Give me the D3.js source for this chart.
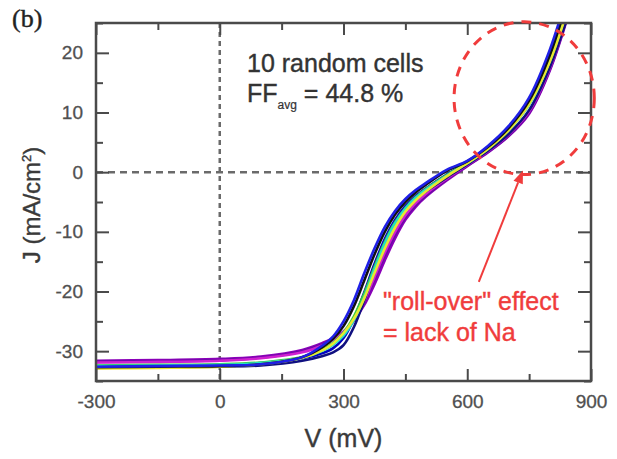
<!DOCTYPE html>
<html><head><meta charset="utf-8">
<script src="https://cdn.jsdelivr.net/npm/d3@7"></script>
<style>
html,body{margin:0;padding:0;background:#fff;}
svg{display:block;font-family:"Liberation Sans",Arial,sans-serif;}
</style></head>
<body>
<svg id="c" width="617" height="459"></svg>
<script>
// ---- data ----
const voltage = [-300,-150,0,100,200,250,275,300,325,350,375,400,425,450,475,500,550,600,650,700,750,800,850];
const cellPurple  = [-31.6,-31.5,-31.3,-30.9,-29.8,-28.6,-27.8,-26.7,-24.9,-22.3,-18.8,-14.8,-11.1,-8.0,-5.8,-4.1,-1.4,1.0,3.3,6.0,9.8,17.0,27.5];
const cellViolet  = [-31.8,-31.7,-31.5,-31.1,-30.0,-28.8,-28.0,-26.9,-24.9,-21.9,-18.0,-14.0,-10.5,-7.6,-5.5,-3.9,-1.2,1.1,3.4,6.1,10.0,17.2,27.8];
const cellMagenta = [-31.9,-31.8,-31.6,-31.2,-30.2,-29.0,-28.1,-26.8,-24.6,-21.6,-17.6,-13.5,-10.0,-7.2,-5.2,-3.6,-1.1,1.2,3.5,6.3,10.2,17.4,28.0];
const cellNavy    = [-32.8,-32.7,-32.6,-32.4,-31.6,-30.8,-30.2,-29.0,-26.0,-21.5,-16.5,-12.0,-8.5,-6.0,-4.4,-3.2,-0.9,1.3,3.6,6.4,10.4,17.6,27.5];
const cellDkBlue  = [-32.6,-32.5,-32.3,-32.0,-31.2,-30.3,-29.5,-27.8,-24.6,-20.2,-15.4,-11.2,-8.0,-5.7,-4.0,-2.7,-0.4,1.6,4.0,7.2,11.7,19.0,29.5];
const cellGreen   = [-32.4,-32.3,-32.2,-31.9,-31.0,-29.7,-28.6,-26.9,-24.2,-20.4,-15.9,-11.7,-8.4,-6.0,-4.2,-2.8,-0.5,1.6,4.0,7.1,11.5,18.8,29.2];
const cellCyan    = [-32.5,-32.4,-32.3,-32.0,-31.1,-29.9,-28.9,-27.4,-24.8,-21.0,-16.3,-12.0,-8.6,-6.1,-4.3,-2.9,-0.6,1.5,3.9,7.0,11.3,18.6,29.0];
const cellYellow  = [-32.9,-32.8,-32.6,-32.2,-31.1,-29.8,-28.7,-27.0,-24.6,-21.2,-16.9,-12.8,-9.3,-6.6,-4.7,-3.2,-0.7,1.5,3.9,7.0,11.4,18.5,28.8];
const cellBlack   = [-32.7,-32.6,-32.5,-32.2,-31.0,-29.3,-27.9,-25.8,-22.5,-18.2,-13.8,-10.0,-7.1,-5.0,-3.4,-2.1,0.2,1.8,4.2,7.4,12.0,19.6,30.5];
const cellBlue    = [-32.6,-32.5,-32.4,-32.2,-31.0,-29.0,-27.5,-25.0,-21.5,-17.0,-12.8,-9.2,-6.5,-4.5,-3.0,-1.8,0.4,1.9,4.4,7.7,12.5,20.5,31.5];
const cells       = [cellPurple,cellViolet,cellMagenta,cellNavy,cellDkBlue,cellGreen,cellCyan,cellYellow,cellBlack,cellBlue];
const curveColors = ["#8a00b8","#6a0aa8","#d020d0","#101080","#0000c0","#3cc83c","#22e0c8","#e8e830","#111111","#1f1fe6"];

const xMajorTicks = [-300,0,300,600,900];
const xMinorTicks = [-150,150,450,750];
const yMajorTicks = [-30,-20,-10,0,10,20];
const yMinorTicks = [-35,-25,-15,-5,5,15,25];
const xDomain = [-300,900];
const yDomain = [-35,25];

// annotation anchors in data units
const circleCenter = {v:738, j:12.4};
const circleRadius = {v:170, j:12.8};
const arrowFrom = {v:628, j:-18.4};
const arrowTo   = {v:735, j:0.3};

// ---- drawing ----
const svg = d3.select("#c");
const L=96,R=591,T=23,B=381;
const x = d3.scaleLinear(xDomain,[L,R]);
const y = d3.scaleLinear(yDomain,[B,T]);

svg.append("defs").append("clipPath").attr("id","clip")
  .append("rect").attr("x",L).attr("y",T).attr("width",R-L).attr("height",B-T);

// zero lines
const dashCol="#6a6a6a";
svg.append("line").attr("x1",L).attr("x2",R).attr("y1",y(0)).attr("y2",y(0))
  .attr("stroke",dashCol).attr("stroke-width",2.5).attr("stroke-dasharray","7,5");
svg.append("line").attr("x1",x(0)).attr("x2",x(0)).attr("y1",T).attr("y2",B)
  .attr("stroke",dashCol).attr("stroke-width",2.5).attr("stroke-dasharray","5,4");

// curves
const line = d3.line().x((d,i)=>x(voltage[i])).y(d=>y(d)).curve(d3.curveCatmullRom.alpha(0.5));
const g = svg.append("g").attr("clip-path","url(#clip)");
cells.forEach((c,k)=>{
  g.append("path").attr("d",line(c)).attr("fill","none")
   .attr("stroke",curveColors[k]).attr("stroke-width",2.6).attr("stroke-linejoin","round");
});

// axes
const axCol="#4a4a4a";
const fmt = d => String(d);
function styleAxis(sel){
  sel.select(".domain").remove();
  sel.selectAll(".tick line").attr("stroke",axCol).attr("stroke-width",2);
  sel.selectAll(".tick text").attr("fill","#505050").style("font-size","19px")
     .style("font-family","'Liberation Sans',Arial,sans-serif")
     .attr("stroke","#505050").attr("stroke-width",0.3);
}
svg.append("g").attr("transform",`translate(0,${B})`)
  .call(d3.axisBottom(x).tickValues(xMajorTicks).tickSize(-12).tickPadding(14).tickFormat(fmt)).call(styleAxis);
svg.append("g").attr("transform",`translate(0,${B})`)
  .call(d3.axisBottom(x).tickValues(xMinorTicks).tickSize(-7).tickFormat("")).call(styleAxis);
svg.append("g").attr("transform",`translate(0,${T})`)
  .call(d3.axisTop(x).tickValues(xMajorTicks).tickSize(-12).tickFormat("")).call(styleAxis);
svg.append("g").attr("transform",`translate(0,${T})`)
  .call(d3.axisTop(x).tickValues(xMinorTicks).tickSize(-7).tickFormat("")).call(styleAxis);
svg.append("g").attr("transform",`translate(${L},0)`)
  .call(d3.axisLeft(y).tickValues(yMajorTicks).tickSize(-13).tickPadding(13).tickFormat(fmt)).call(styleAxis);
svg.append("g").attr("transform",`translate(${L},0)`)
  .call(d3.axisLeft(y).tickValues(yMinorTicks).tickSize(-7).tickFormat("")).call(styleAxis);
svg.append("g").attr("transform",`translate(${R},0)`)
  .call(d3.axisRight(y).tickValues(yMajorTicks).tickSize(-13).tickFormat("")).call(styleAxis);
svg.append("g").attr("transform",`translate(${R},0)`)
  .call(d3.axisRight(y).tickValues(yMinorTicks).tickSize(-7).tickFormat("")).call(styleAxis);

// frame
svg.append("rect").attr("x",L).attr("y",T).attr("width",R-L).attr("height",B-T)
  .attr("fill","none").attr("stroke",axCol).attr("stroke-width",2.5);

// axis titles
svg.append("text").attr("x",(L+R)/2).attr("y",447).attr("text-anchor","middle")
  .attr("fill","#3a3a3a").attr("stroke","#3a3a3a").attr("stroke-width",0.4)
  .style("font-size","25px").text("V (mV)");
const yt = svg.append("text").attr("transform",`translate(40,${(T+B)/2+3}) rotate(-90)`)
  .attr("text-anchor","middle").attr("fill","#3a3a3a").attr("stroke","#3a3a3a").attr("stroke-width",0.4)
  .style("font-size","24px");
yt.append("tspan").text("J (mA/cm");
yt.append("tspan").attr("dy",-9).style("font-size","13px").text("2");
yt.append("tspan").attr("dy",9).text(")");

// panel label
svg.append("text").attr("x",12).attr("y",27).attr("fill","#222").attr("stroke","#222").attr("stroke-width",0.4)
  .style("font-family","'Liberation Serif','Times New Roman',serif").style("font-size","26px").text("(b)");

// annotation text
svg.append("text").attr("x",247).attr("y",72).attr("fill","#333").attr("stroke","#333").attr("stroke-width",0.4)
  .style("font-size","25px").text("10 random cells");
const ff = svg.append("text").attr("x",247).attr("y",102).attr("fill","#333").attr("stroke","#333").attr("stroke-width",0.4)
  .style("font-size","25px");
ff.append("tspan").text("FF");
ff.append("tspan").attr("dy",7).style("font-size","12px").attr("stroke-width",0.2).text("avg");
ff.append("tspan").attr("dy",-7).text(" = 44.8 %");

// red dashed ellipse
const red="#f03c3c";
svg.append("ellipse").attr("cx",x(circleCenter.v)).attr("cy",y(circleCenter.j))
  .attr("rx",x(circleCenter.v+circleRadius.v)-x(circleCenter.v))
  .attr("ry",y(circleCenter.j-circleRadius.j)-y(circleCenter.j))
  .attr("fill","none").attr("stroke",red).attr("stroke-width",3).attr("stroke-dasharray","10,8");

// arrow
const ax1=x(arrowFrom.v), ay1=y(arrowFrom.j), ax2=x(arrowTo.v), ay2=y(arrowTo.j);
const ang=Math.atan2(ay2-ay1,ax2-ax1), hl=13, hw=5;
const bx=ax2-hl*Math.cos(ang), by=ay2-hl*Math.sin(ang);
svg.append("line").attr("x1",ax1).attr("y1",ay1).attr("x2",bx).attr("y2",by)
  .attr("stroke",red).attr("stroke-width",2);
svg.append("path").attr("d",`M${ax2},${ay2}L${bx+hw*Math.sin(ang)},${by-hw*Math.cos(ang)}L${bx-hw*Math.sin(ang)},${by+hw*Math.cos(ang)}Z`)
  .attr("fill",red);

svg.append("text").attr("x",383).attr("y",310).attr("fill",red).attr("stroke",red).attr("stroke-width",0.4)
  .style("font-size","25px").text("\"roll-over\" effect");
svg.append("text").attr("x",383).attr("y",341).attr("fill",red).attr("stroke",red).attr("stroke-width",0.4)
  .style("font-size","25px").text("= lack of Na");
</script>
</body></html>
